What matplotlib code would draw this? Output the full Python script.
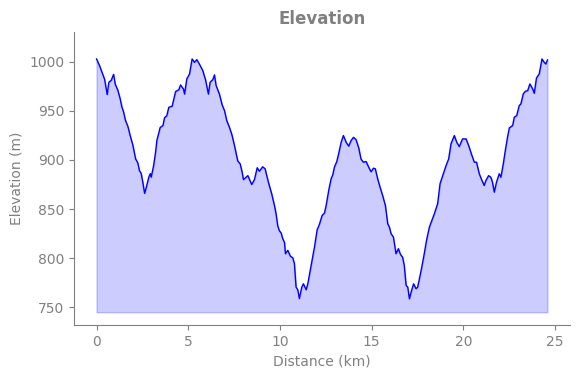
import matplotlib
matplotlib.use("Agg")
import matplotlib.pyplot as plt

# distance (km) and elevation (m)
distance = [0.00, 0.16, 0.26, 0.44, 0.58, 0.67, 0.80, 0.93, 1.02, 1.16, 1.29, 1.38, 1.47, 1.58,
            1.71, 1.83, 1.98, 2.13, 2.25, 2.34, 2.43, 2.52, 2.62, 2.71, 2.85, 2.93, 2.98, 3.11,
            3.22, 3.29, 3.40, 3.47, 3.62, 3.71, 3.83, 3.94,
            4.12, 4.31, 4.49, 4.58, 4.74, 4.80, 4.92, 5.07, 5.21, 5.34, 5.47, 5.65, 5.79, 5.94,
            6.10, 6.19, 6.34, 6.43, 6.52, 6.70, 6.85, 6.98, 7.10, 7.25, 7.39, 7.52, 7.70, 7.83,
            7.94, 8.01,
            8.25, 8.46, 8.61, 8.76, 8.88, 9.06, 9.19, 9.37, 9.55, 9.70, 9.79, 9.88, 9.97, 10.07,
            10.15, 10.25, 10.30, 10.43, 10.57, 10.70, 10.79, 10.88, 10.97, 11.06, 11.19, 11.28,
            11.43, 11.52, 11.70, 11.88, 12.03,
            12.15, 12.30, 12.43, 12.52, 12.66, 12.79, 12.88, 12.97, 13.10, 13.21, 13.34, 13.46,
            13.61, 13.75, 13.88, 14.01, 14.15, 14.30, 14.42, 14.55, 14.70, 14.84, 14.97, 15.10,
            15.20, 15.33, 15.46, 15.60, 15.75, 15.88, 15.97, 16.06, 16.19,
            16.33, 16.46, 16.57, 16.69, 16.78, 16.88, 16.97, 17.06, 17.18, 17.29, 17.42, 17.51,
            17.70, 17.87,
            18.00, 18.15, 18.42, 18.60, 18.73, 18.91, 19.06, 19.20, 19.33, 19.51, 19.64, 19.78,
            19.96, 20.15, 20.29, 20.47, 20.60, 20.72, 20.87, 21.02, 21.14, 21.23, 21.38, 21.50,
            21.59, 21.69, 21.81, 21.96, 22.05, 22.18, 22.29, 22.41, 22.51, 22.69, 22.78, 22.91,
            23.05, 23.14, 23.27, 23.38, 23.51, 23.63, 23.78, 23.87, 23.99, 24.14, 24.29, 24.41,
            24.50, 24.59]
elevation = [1002.7, 996, 991, 982, 966.5, 979, 981, 987, 977, 971, 962, 954, 949, 940,
             934, 925, 915, 901, 897, 889, 886.5, 877.5, 866, 872, 882.5, 886, 882.5, 894,
             908, 920, 928, 933, 935, 943, 945, 953.5,
             954.6, 969.5, 971.5, 976.3, 972, 967, 982.4, 987.5, 1002.7, 999.3, 1002, 996, 991, 981.7,
             967, 979, 981.7, 986.5, 975.6, 967, 956, 950, 940, 933, 925, 914.6, 899, 896,
             887.5, 880,
             884, 875, 880, 892, 888.5, 893, 891, 877.4, 865.6, 853.7, 845, 833, 828, 825.5,
             820, 816, 804.6, 808, 802, 800.5, 794.5, 770.6, 768, 759, 770.6, 774,
             768, 774, 792.7, 811, 829,
             834.3, 843.5, 846, 853.7, 869, 880.8, 884.8, 892.6, 898.4, 907, 918, 924.8,
             918, 914, 919.7, 923, 920.7, 912, 901, 897.7, 898.4, 892.6, 888, 891.6,
             891, 880.8, 872.3, 863.8, 853.7, 835, 831.6, 825, 821.4,
             804.6, 809.7, 804, 801, 792.7, 772.4, 770.6, 758.8, 767.3, 774, 769, 770.6,
             787.6, 804.6,
             818.8, 831.6, 845.2, 855.4, 875.7, 885.9, 894.3, 901, 916.4, 924.8, 918, 913.6,
             921.4, 921.4, 914.6, 904.5, 897.7, 897.7, 885.9, 879, 874, 879, 884, 882.4,
             877.4, 867.2, 877.4, 885.9, 882.4, 896, 909.6, 923, 932.6, 935, 943.4, 945.1,
             955.3, 957, 967.2, 969.8, 970.5, 977.3, 972.3, 967.8, 983.4, 987.5, 1002.7, 999.3,
             997.6, 1001.7]
base = 745

grey = "#808080"

fig = plt.figure(figsize=(5.8, 3.78), dpi=100)
ax = fig.add_axes([0.1276, 0.140, 0.8552, 0.775])

ax.fill_between(distance, elevation, base, color="blue", alpha=0.2)
ax.plot(distance, elevation, color="blue", linewidth=1)

ax.set_ylim(732, 1030)
ax.set_title("Elevation", color=grey, fontweight="bold", fontsize=12)
ax.set_xlabel("Distance (km)", color=grey, fontsize=10)
ax.set_ylabel("Elevation (m)", color=grey, fontsize=10)

for side in ["top", "right"]:
    ax.spines[side].set_visible(False)
for side in ["left", "bottom"]:
    ax.spines[side].set_color(grey)
ax.tick_params(colors=grey, labelsize=10)

fig.savefig("out.png", dpi=100)
